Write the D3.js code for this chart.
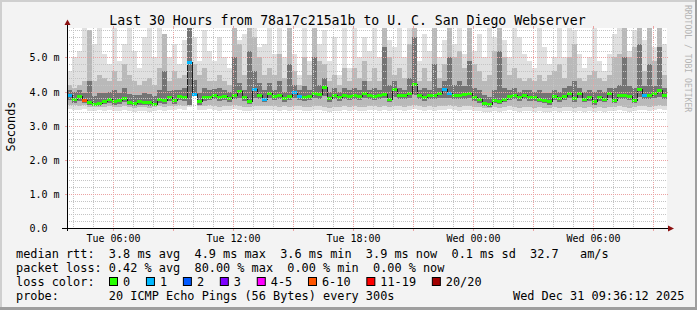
<!DOCTYPE html>
<html><head><meta charset="utf-8">
<script src="https://cdn.jsdelivr.net/npm/d3@7"></script>
<style>
html,body{margin:0;padding:0;background:#f3f3f3;}
svg{display:block;font-family:"DejaVu Sans Mono",monospace;}
</style>
</head><body>
<svg id="c" width="697" height="310"></svg>
<script>
// ---------------- DATA ----------------
const startTime = Date.UTC(2025, 11, 30, 3, 42);   // Tue 03:42
const spanHours = 30;
const stepMinutes = 15;

// median RTT (ms) per 15-minute step
const median = [
 3.89,3.79,3.86,3.76,3.69,3.65,3.67,3.73,3.79,3.71,
 3.75,3.81,3.69,3.67,3.71,3.69,3.69,3.65,3.79,3.75,
 3.83,3.75,3.86,3.83,4.86,3.93,3.71,3.83,3.85,3.89,
 3.83,3.86,3.81,3.89,4.03,3.83,3.73,4.07,3.90,3.79,
 3.95,3.86,3.89,3.81,3.87,3.99,3.86,3.83,3.87,3.95,
 3.92,4.14,3.81,3.90,3.83,3.89,3.86,3.89,3.87,3.95,
 3.90,3.86,3.90,3.94,3.79,4.09,3.90,3.89,3.95,4.21,
 3.89,3.83,3.90,3.89,3.95,4.07,3.95,3.89,3.90,3.92,
 3.95,3.83,3.79,3.66,3.63,3.76,3.73,3.79,3.86,3.89,
 3.83,3.90,3.83,3.83,3.79,3.76,3.71,3.86,3.81,3.86,
 3.95,3.81,3.95,3.79,3.83,3.71,3.83,3.79,3.95,3.76,
 3.89,3.90,3.86,3.76,4.09,3.90,3.89,3.95,4.04,3.90];

// lost pings (of 20) per step
const loss = [
 1,0,0,7,0,0,0,0,0,0,
 0,0,0,0,0,0,0,0,0,0,
 0,0,0,0,1,1,0,0,0,0,
 0,0,0,0,0,0,0,1,0,1,
 0,0,0,0,0,1,1,0,0,0,
 0,0,0,0,0,0,0,0,0,0,
 0,0,0,0,0,0,0,0,0,0,
 0,0,0,0,0,1,1,0,0,0,
 0,0,0,0,0,0,0,0,0,0,
 0,0,0,0,0,0,0,0,0,0,
 0,0,0,0,0,0,0,0,0,0,
 0,0,0,0,0,1,0,0,0,0];

// smoke: slowest ping (ms)
const smokeMax = [
 4.6,5.0,5.2,6,5.8,5.4,6,5.1,4.8,6,
 4.9,5.4,6,5.2,4.7,5.6,6,5.0,6,5.7,
 5.0,5.4,4.8,5.5,6,5.6,4.9,5.8,5.2,4.9,
 5.6,5.0,4.7,6,5.5,5.7,6,5.9,5.3,5.4,
 6,5.1,6,5.0,6,5.1,4.5,6,4.9,6,
 5.4,5.8,4.9,5.6,4.5,6,4.7,6,5.0,5.6,
 5.2,6,5.0,6,5.5,5.3,6,5.0,6,6,
 4.9,5.7,5.2,6,5.0,5.5,6,5.4,6,5.1,
 6,5.2,5.7,5.0,6,5.6,6,5.5,5.0,6,
 5.6,5.1,4.9,4.7,6,5.3,4.8,5.0,6,5.0,
 6,5.8,5.1,4.7,5.0,6,4.9,4.6,5.1,5.7,
 6,6,5.2,5.8,6,5.5,6,5.3,6,5.4];

// smoke: upper outer band (ms)
const smokeHi = [
 4.2,4.1,4.2,4.3,5.8,4.3,4.5,4.4,4.3,4.6,
 4.3,4.8,4.5,4.3,4.2,4.3,4.4,4.2,4.7,5.7,
 4.3,4.6,4.4,4.5,6,4.8,4.5,4.7,4.3,4.3,
 4.5,4.3,4.2,6,5.4,4.5,6,5.6,5.0,4.5,
 4.7,4.5,5.1,4.4,6,4.6,4.2,5.0,4.5,6,
 4.9,4.8,4.3,4.5,4.2,4.7,4.3,4.7,4.4,4.9,
 4.3,4.7,4.3,6,5.0,4.5,4.7,4.4,5.4,6,
 4.3,4.7,4.3,6,4.4,4.8,6,5.0,5.2,4.7,
 6,4.8,4.6,4.3,4.5,5.2,6,5.0,4.5,4.7,
 4.4,4.3,4.4,4.3,4.5,4.3,4.5,4.6,4.8,4.4,
 5.0,5.4,4.4,4.3,4.5,4.6,4.4,4.3,4.5,5.0,
 5.1,6,5.0,5.3,6,4.6,6,4.9,6,4.5];

// smoke: upper inner band (ms)
const darkHi = [
 4.05,3.98,4.05,3.95,4.30,3.88,3.95,3.95,4.00,4.05,
 3.95,4.10,3.92,3.90,3.90,3.95,3.92,3.88,4.05,4.60,
 4.02,4.05,4.05,4.10,6.00,4.35,3.95,4.10,4.05,4.08,
 4.10,4.05,4.00,5.00,4.25,4.05,5.20,4.60,4.25,4.05,
 4.25,4.05,4.30,4.00,4.80,4.20,4.05,4.15,4.05,5.00,
 4.20,4.40,4.00,4.10,4.00,4.10,4.05,4.10,4.05,4.30,
 4.05,4.10,4.05,5.30,4.20,4.30,4.10,4.05,4.40,5.60,
 4.05,4.10,4.05,4.80,4.10,4.30,5.00,4.20,4.30,4.15,
 4.90,4.10,4.05,3.90,3.85,4.05,5.20,4.10,4.05,4.10,
 4.00,4.05,4.05,4.00,4.05,3.95,3.95,4.05,4.00,4.10,
 4.15,4.30,4.10,4.00,4.05,4.00,4.05,4.00,4.10,4.10,
 4.20,5.00,4.15,4.10,5.40,4.15,4.80,4.15,5.30,4.10];

// smoke: lower inner band (ms)
const darkLo = [
 3.75,3.68,3.72,3.66,3.60,3.57,3.59,3.63,3.68,3.62,
 3.65,3.69,3.60,3.58,3.62,3.60,3.59,3.57,3.68,3.65,
 3.71,3.65,3.74,3.71,3.62,3.92,3.62,3.72,3.74,3.77,
 3.71,3.74,3.70,3.77,3.82,3.72,3.64,3.80,3.78,3.69,
 3.80,3.74,3.77,3.70,3.75,3.80,3.74,3.72,3.75,3.80,
 3.79,3.86,3.70,3.78,3.72,3.77,3.74,3.77,3.75,3.81,
 3.78,3.74,3.78,3.80,3.69,3.85,3.78,3.77,3.81,3.90,
 3.77,3.72,3.78,3.77,3.81,3.82,3.81,3.77,3.78,3.79,
 3.81,3.72,3.68,3.57,3.55,3.66,3.64,3.69,3.75,3.77,
 3.72,3.78,3.72,3.72,3.69,3.66,3.62,3.75,3.70,3.75,
 3.81,3.70,3.81,3.69,3.72,3.62,3.72,3.69,3.81,3.66,
 3.77,3.78,3.75,3.66,3.85,3.78,3.77,3.81,3.84,3.78];

// smoke: lower outer band (ms)
const smokeLow = [
 3.62,3.60,3.58,3.60,3.56,3.54,3.56,3.55,3.58,3.56,
 3.55,3.57,3.55,3.53,3.56,3.54,3.53,3.55,3.57,3.56,
 3.59,3.57,3.60,3.58,3.60,3.91,3.58,3.57,3.60,3.58,
 3.56,3.59,3.57,3.60,3.58,3.56,3.55,3.59,3.57,3.58,
 3.59,3.57,3.55,3.58,3.56,3.59,3.57,3.55,3.56,3.58,
 3.57,3.55,3.53,3.56,3.54,3.57,3.55,3.58,3.56,3.54,
 3.57,3.59,3.56,3.58,3.55,3.57,3.59,3.56,3.58,3.60,
 3.57,3.55,3.58,3.56,3.59,3.57,3.60,3.58,3.56,3.57,
 3.58,3.56,3.54,3.52,3.51,3.54,3.53,3.55,3.57,3.55,
 3.53,3.56,3.54,3.52,3.55,3.53,3.52,3.55,3.53,3.56,
 3.54,3.52,3.55,3.53,3.54,3.52,3.55,3.53,3.56,3.54,
 3.57,3.55,3.53,3.56,3.59,3.57,3.55,3.58,3.60,3.57];

// smoke: fastest ping (ms)
const smokeMin = [
 3.50,3.47,3.45,3.48,3.44,3.42,3.45,3.43,3.46,3.44,
 3.42,3.45,3.43,3.41,3.44,3.42,3.40,3.43,3.45,3.44,
 3.47,3.45,3.48,3.46,3.56,3.90,3.47,3.45,3.48,3.46,
 3.44,3.47,3.45,3.48,3.46,3.44,3.43,3.47,3.45,3.46,
 3.47,3.45,3.43,3.46,3.44,3.47,3.45,3.42,3.44,3.46,
 3.45,3.43,3.41,3.44,3.42,3.45,3.43,3.46,3.44,3.42,
 3.45,3.47,3.44,3.46,3.43,3.45,3.47,3.44,3.46,3.48,
 3.45,3.43,3.46,3.44,3.47,3.45,3.48,3.46,3.44,3.45,
 3.46,3.44,3.42,3.40,3.39,3.42,3.41,3.43,3.45,3.43,
 3.41,3.44,3.42,3.40,3.43,3.41,3.40,3.43,3.41,3.44,
 3.42,3.40,3.43,3.41,3.42,3.40,3.43,3.41,3.44,3.42,
 3.45,3.43,3.41,3.44,3.47,3.45,3.43,3.46,3.48,3.45];

const yTickValues = [0, 1, 2, 3, 4, 5];
const yTickLabels = ["0.0", "1.0 m", "2.0 m", "3.0 m", "4.0 m", "5.0 m"];
const xTickLabels = ["Tue 06:00", "Tue 12:00", "Tue 18:00", "Wed 00:00", "Wed 06:00"];

const lossLabels = ["0", "1", "2", "3", "4-5", "6-10", "11-19", "20/20"];
const lossColors = ["#26ff00", "#00b8ff", "#0059ff", "#7e00ff", "#ff00ff", "#ff5500", "#ff0000", "#a10000"];

const titleText = "Last 30 Hours from 78a17c215a1b to U. C. San Diego Webserver";
const legendRows = [
 "median rtt:  3.8 ms avg  4.9 ms max  3.6 ms min  3.9 ms now  0.1 ms sd  32.7   am/s",
 "packet loss: 0.42 % avg  80.00 % max  0.00 % min  0.00 % now"
];
const probeText = "probe:       20 ICMP Echo Pings (56 Bytes) every 300s";
const dateText = "Wed Dec 31 09:36:12 2025";

// ---------------- DRAW ----------------
const W = 697, H = 310;
const PL = 67, PR = 667, PT = 28, PB = 228;
const yMax = 5.865;
const N = median.length;
const svg = d3.select("#c");
const FONT = "DejaVu Sans Mono";

const x = d3.scaleUtc()
  .domain([new Date(startTime), new Date(startTime + spanHours * 3600e3)])
  .range([PL, PR]);
const y = d3.scaleLinear().domain([0, yMax]).range([PB, PT]);
const t = i => new Date(startTime + i * stepMinutes * 60000);
const lossIndex = l => l === 0 ? 0 : l === 1 ? 1 : l === 2 ? 2 : l === 3 ? 3 :
  l <= 5 ? 4 : l <= 10 ? 5 : l <= 19 ? 6 : 7;

// background and shading
svg.append("rect").attr("width", W).attr("height", H).attr("fill", "#f3f3f3");
svg.append("rect").attr("x", 0).attr("y", 0).attr("width", W).attr("height", 2).attr("fill", "#cfcfcf");
svg.append("rect").attr("x", 0).attr("y", 0).attr("width", 2).attr("height", H).attr("fill", "#cfcfcf");
svg.append("rect").attr("x", 0).attr("y", H - 3).attr("width", W).attr("height", 3).attr("fill", "#9e9e9e");
svg.append("rect").attr("x", W - 2).attr("y", 0).attr("width", 2).attr("height", H).attr("fill", "#9e9e9e");

// canvas
svg.append("rect").attr("x", PL).attr("y", PT).attr("width", PR - PL).attr("height", PB - PT).attr("fill", "#ffffff");

svg.append("defs").append("clipPath").attr("id", "plotclip")
  .append("rect").attr("x", PL).attr("y", PT).attr("width", PR - PL).attr("height", PB - PT);

const data = svg.append("g").attr("clip-path", "url(#plotclip)");
function band(lo, hi, color) {
  data.append("g").selectAll("rect").data(d3.range(N)).join("rect")
    .attr("x", i => x(t(i)))
    .attr("width", i => x(t(i + 1)) - x(t(i)))
    .attr("y", i => y(Math.min(hi[i], yMax + 0.1)))
    .attr("height", i => Math.max(0, y(lo[i]) - y(Math.min(hi[i], yMax + 0.1))))
    .attr("fill", color)
    .attr("shape-rendering", "crispEdges");
}
band(smokeMin, smokeMax, "#e0e0e0");
band(smokeLow, smokeHi, "#b9b9b9");
band(darkLo, darkHi, "#747474");

// median line (step)
const medPts = median.map((v, i) => [t(i), v]).concat([[t(N), median[N - 1]]]);
data.append("path")
  .attr("d", d3.line().x(d => x(d[0])).y(d => Math.round(y(d[1])) + 0.5).curve(d3.curveStepAfter)(medPts))
  .attr("fill", "none").attr("stroke", "#1e1e1e").attr("stroke-width", 1)
  .attr("shape-rendering", "crispEdges");
data.append("g").selectAll("rect").data(d3.range(N)).join("rect")
  .attr("x", i => x(t(i)))
  .attr("width", i => x(t(i + 1)) - x(t(i)))
  .attr("y", i => Math.round(y(median[i])) - 1)
  .attr("height", 3)
  .attr("fill", i => lossColors[lossIndex(loss[i])])
  .attr("shape-rendering", "crispEdges");

// grid (drawn over the data, as rrdtool does)
const grid = svg.append("g").attr("shape-rendering", "crispEdges");
const GRID = "#c4c4c4", MGRID = "#eba3a3";
const dom = x.domain();
const hours = d3.utcHour.range(dom[0], dom[1]);
hours.forEach(h => {
  const major = h.getUTCHours() % 3 === 0;
  const X = Math.round(x(h)) + 0.5;
  const col = major ? MGRID : GRID;
  grid.append("line").attr("x1", X).attr("x2", X).attr("y1", PT).attr("y2", PB)
    .attr("stroke", col).attr("stroke-dasharray", "1,1");
  if (major) {
    grid.append("line").attr("x1", X).attr("x2", X).attr("y1", PB).attr("y2", PB + 3).attr("stroke", col);
    grid.append("line").attr("x1", X).attr("x2", X).attr("y1", PT - 2).attr("y2", PT).attr("stroke", col);
  }
});
const minorY = d3.range(1, 30).map(i => +(i * 0.2).toFixed(1)).filter(v => Math.abs(v - Math.round(v)) > 1e-6 && v < yMax);
minorY.forEach(v => {
  const Y = Math.round(y(v)) + 0.5;
  grid.append("line").attr("x1", PL).attr("x2", PR).attr("y1", Y).attr("y2", Y)
    .attr("stroke", GRID).attr("stroke-dasharray", "1,1");
});
yTickValues.filter(v => v > 0).forEach(v => {
  const Y = Math.round(y(v)) + 0.5;
  grid.append("line").attr("x1", PL).attr("x2", PR + 2).attr("y1", Y).attr("y2", Y)
    .attr("stroke", MGRID).attr("stroke-dasharray", "1,1");
  grid.append("line").attr("x1", PL - 2).attr("x2", PL).attr("y1", Y).attr("y2", Y).attr("stroke", MGRID);
});

// axes lines and arrows
svg.append("line").attr("x1", PL - 5).attr("x2", PR + 2).attr("y1", PB + 0.5).attr("y2", PB + 0.5)
  .attr("stroke", "#000").attr("shape-rendering", "crispEdges");
svg.append("line").attr("x1", PL + 0.5).attr("x2", PL + 0.5).attr("y1", PB + 3).attr("y2", PT - 4)
  .attr("stroke", "#000").attr("shape-rendering", "crispEdges");
svg.append("path").attr("d", `M${PR + 1},${PB - 2.5} L${PR + 7},${PB + 0.5} L${PR + 1},${PB + 3.5} Z`).attr("fill", "#8b1010");
svg.append("path").attr("d", `M${PL - 2.5},${PT - 3} L${PL + 0.5},${PT - 8.5} L${PL + 3.5},${PT - 3} Z`).attr("fill", "#8b1010");

// x axis labels
const labelTimes = d3.utcHour.every(6).range(dom[0], dom[1]);
const gx = svg.append("g").attr("transform", `translate(0,${PB})`)
  .call(d3.axisBottom(x).tickValues(labelTimes).tickFormat((d, i) => xTickLabels[i]).tickSize(0));
gx.select(".domain").remove();
gx.selectAll("text").attr("y", 13.5).attr("dy", null)
  .attr("font-family", FONT).attr("font-size", 10).attr("fill", "#000");

// y axis labels
const gy = svg.append("g").attr("transform", `translate(${PL},0)`)
  .call(d3.axisLeft(y).tickValues(yTickValues).tickFormat((d, i) => yTickLabels[i]).tickSize(0));
gy.select(".domain").remove();
gy.selectAll("text").attr("x", 29.5 - PL).attr("dy", "0.34em").attr("text-anchor", "start")
  .attr("font-family", FONT).attr("font-size", 10).attr("fill", "#000");

// titles
svg.append("text").attr("x", 347.5).attr("y", 24.5).attr("text-anchor", "middle")
  .attr("font-family", FONT).attr("font-size", 13.2).attr("fill", "#000").text(titleText);
svg.append("text").attr("transform", "translate(14.5,126.5) rotate(-90)").attr("text-anchor", "middle")
  .attr("font-family", FONT).attr("font-size", 11.86).attr("fill", "#000").text("Seconds");
svg.append("text").attr("transform", "translate(684.5,5) rotate(90)").attr("text-anchor", "start")
  .attr("font-family", FONT).attr("font-size", 8.1).attr("fill", "#b4b4b4").text("RRDTOOL / TOBI OETIKER");

// legend
const LF = 11.86, CW = 7.14;
legendRows.forEach((s, i) => {
  svg.append("text").attr("x", 16).attr("y", 258 + 14 * i).attr("xml:space", "preserve")
    .style("white-space", "pre")
    .attr("font-family", FONT).attr("font-size", LF).attr("fill", "#000").text(s);
});
svg.append("text").attr("x", 16).attr("y", 286).attr("font-family", FONT).attr("font-size", LF).text("loss color:");
let bx = 109;
lossLabels.forEach((lab, i) => {
  svg.append("rect").attr("x", bx + 0.5).attr("y", 277.5).attr("width", 8).attr("height", 8)
    .attr("fill", lossColors[i]).attr("stroke", "#000").attr("stroke-width", 1);
  svg.append("text").attr("x", bx + 14).attr("y", 286).attr("font-family", FONT).attr("font-size", LF)
    .attr("fill", "#000").text(lab);
  bx += 14 + lab.length * CW + 15.8;
});
svg.append("text").attr("x", 16).attr("y", 300).attr("xml:space", "preserve").style("white-space", "pre")
  .attr("font-family", FONT).attr("font-size", LF).attr("fill", "#000").text(probeText);
svg.append("text").attr("x", 513).attr("y", 300)
  .attr("font-family", FONT).attr("font-size", LF).attr("fill", "#000").text(dateText);
</script>
</body></html>
